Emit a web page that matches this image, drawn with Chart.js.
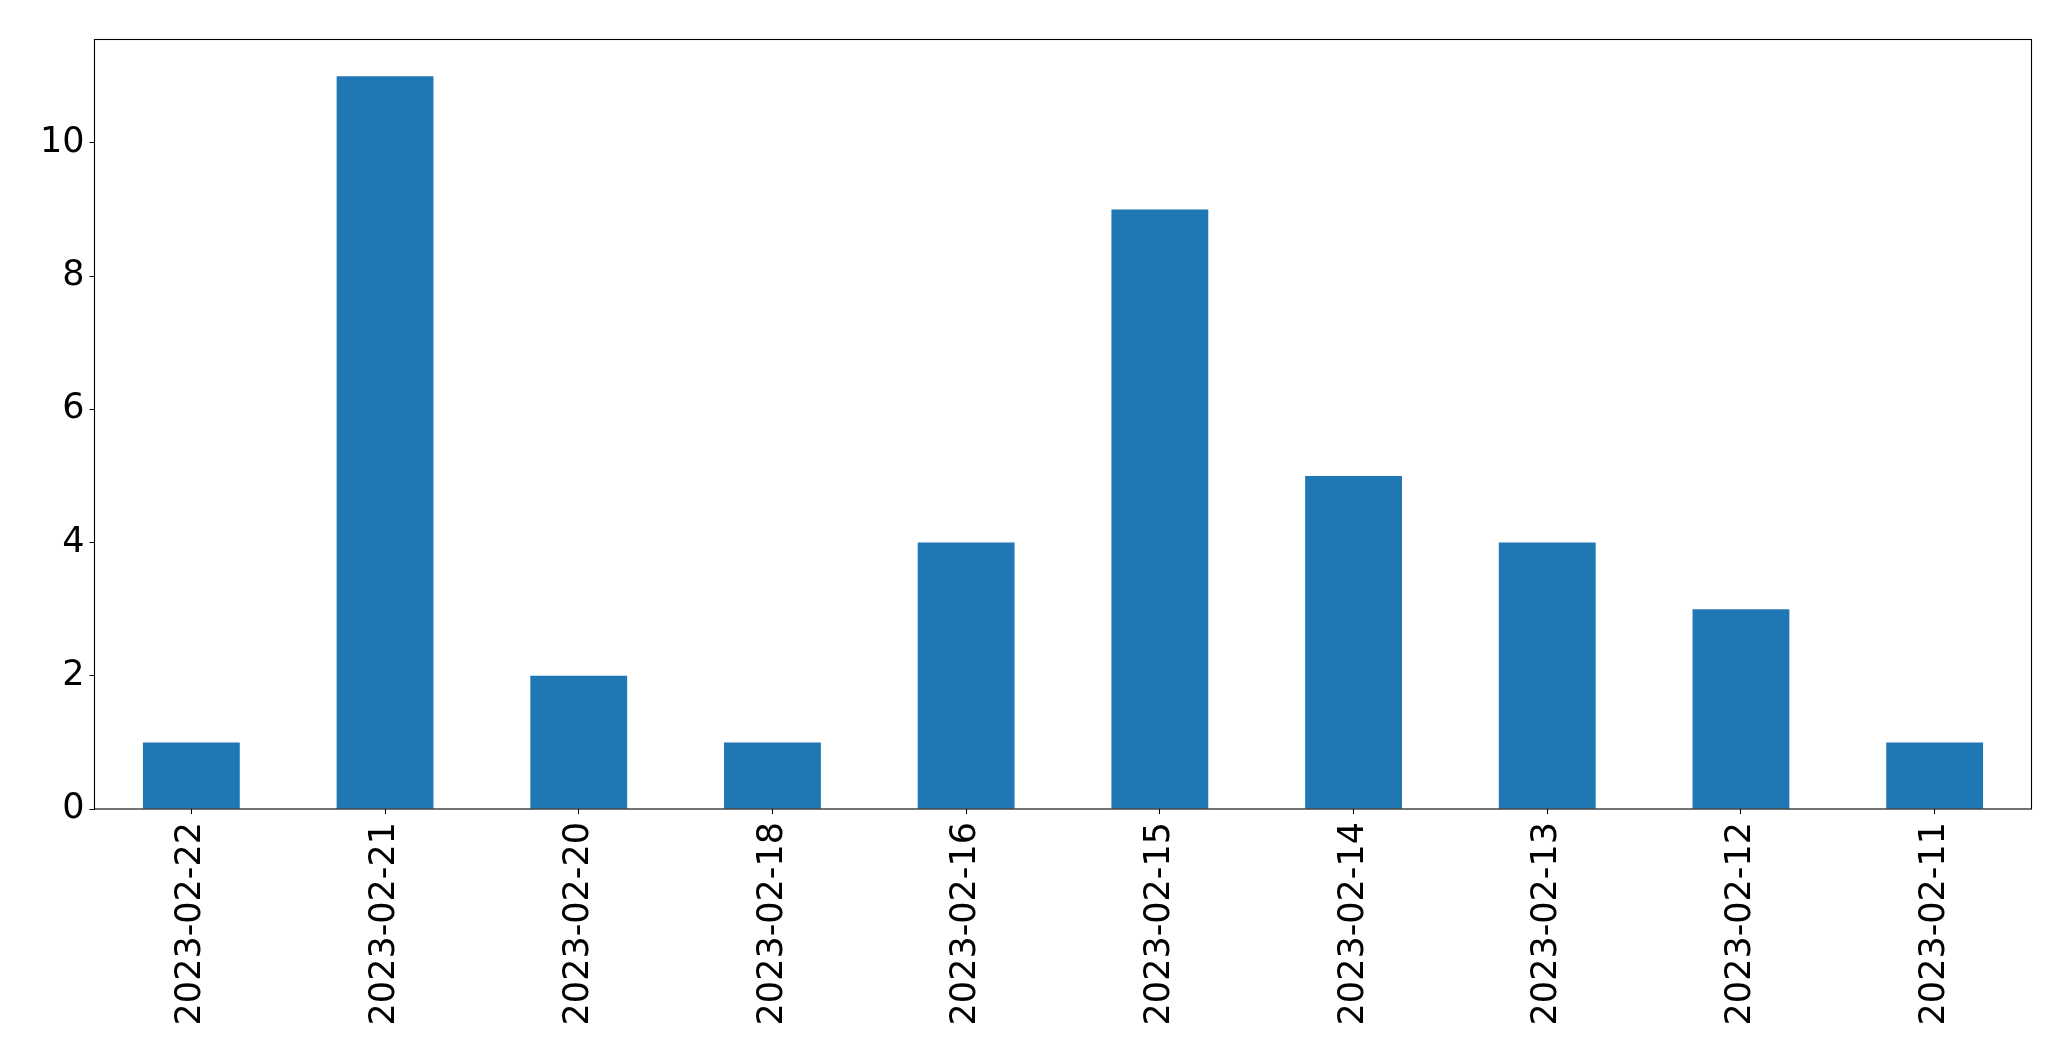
<!DOCTYPE html>
<html>
<head>
<meta charset="utf-8">
<script src="https://cdn.jsdelivr.net/npm/chart.js@4/dist/chart.umd.min.js"></script>
<style>
  html, body { margin: 0; padding: 0; background: #fff; }
  #wrap { width: 2071px; height: 1061px; }
</style>
</head>
<body>
<div id="wrap"><canvas id="myChart" width="2071" height="1061"></canvas></div>
<script>
// dates as they appear on the x axis (newest first)
var dates = ['2023-02-22', '2023-02-21', '2023-02-20', '2023-02-18', '2023-02-16',
  '2023-02-15', '2023-02-14', '2023-02-13', '2023-02-12', '2023-02-11']
var counts = [1, 11, 2, 1, 4, 9, 5, 4, 3, 1]
var yTicks = [0, 2, 4, 6, 8, 10]
var yMax = 11.55

// draws the full box around the plot, like matplotlib's spines
var frame = {
  id: 'frame',
  afterDraw: function (chart) {
    var a = chart.chartArea
    var ctx = chart.ctx
    ctx.save()
    ctx.strokeStyle = '#000'
    ctx.lineWidth = 1.1
    ctx.strokeRect(a.left, a.top, a.right - a.left, a.bottom - a.top)
    ctx.restore()
  }
}

Chart.defaults.font.family = '"DejaVu Sans", sans-serif'
Chart.defaults.color = '#000'

var chart = new Chart(document.getElementById('myChart'), {
  type: 'bar',
  data: {
    labels: dates,
    datasets: [{
      data: counts,
      backgroundColor: '#1f77b4',
      categoryPercentage: 1,
      barPercentage: 0.5
    }]
  },
  options: {
    responsive: false,
    animation: false,
    layout: { padding: { left: 0, top: 39.5, right: 39.5, bottom: 0 } },
    plugins: { legend: { display: false }, tooltip: { enabled: false } },
    scales: {
      x: {
        offset: true,
        grid: { drawOnChartArea: false, drawTicks: true, tickLength: 5, color: '#000', offset: false },
        border: { display: false },
        ticks: { font: { size: 35 }, maxRotation: 90, minRotation: 90, padding: 8, autoSkip: false },
        afterFit: function (scale) { scale.height = 252 }
      },
      y: {
        min: 0,
        max: yMax,
        grid: { drawOnChartArea: false, drawTicks: true, tickLength: 5, color: '#000' },
        border: { display: false },
        ticks: { font: { size: 35 }, padding: 5 },
        afterBuildTicks: function (scale) {
          scale.ticks = yTicks.map(function (v) { return { value: v } })
        },
        afterFit: function (scale) { scale.width = 94.5 }
      }
    }
  },
  plugins: [frame]
})
</script>
</body>
</html>
